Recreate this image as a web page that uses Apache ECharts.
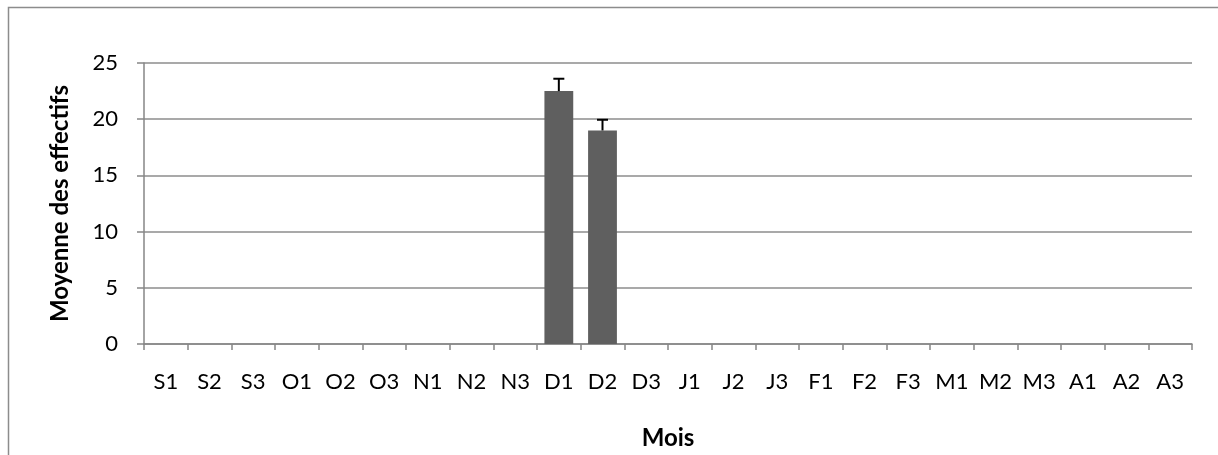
<!DOCTYPE html>
<html><head><meta charset="utf-8">
<script src="https://cdn.jsdelivr.net/npm/echarts@6/dist/echarts.min.js"></script>
<style>html,body{margin:0;padding:0;background:#fff;overflow:hidden}#c{width:1218px;height:455px}</style>
</head><body><div id="c"></div>
<script>
const categories = ['S1','S2','S3','O1','O2','O3','N1','N2','N3','D1','D2','D3','J1','J2','J3','F1','F2','F3','M1','M2','M3','A1','A2','A3'];
const means = [0,0,0,0,0,0,0,0,0,22.5,19,0,0,0,0,0,0,0,0,0,0,0,0,0];
const errors = [0,0,0,0,0,0,0,0,0,1.1,0.95,0,0,0,0,0,0,0,0,0,0,0,0,0];
const yTicks = [0,5,10,15,20,25];

const font = 'Lato, "Open Sans", sans-serif';
const chart = echarts.init(document.getElementById('c'), null, {renderer:'canvas'});
const errData = means.map((m,i)=>[i, m, m+errors[i]]).filter(d=>d[2]>d[1]);
chart.setOption({
  animation:false,
  graphic:[{type:'rect',shape:{x:8.5,y:7.5,width:1400,height:600},style:{fill:'none',stroke:'#8c8c8c',lineWidth:1.5},silent:true}],
  grid:{left:144,right:26,top:63,bottom:105,containLabel:false},
  xAxis:{type:'category',data:categories,boundaryGap:true,
    name:'Mois',nameLocation:'middle',nameGap:82,
    nameTextStyle:{fontFamily:font,fontWeight:'bold',fontSize:24,color:'#000'},
    axisLine:{lineStyle:{color:'#868686',width:1.5}},
    axisTick:{show:true,interval:0,length:6,lineStyle:{color:'#868686',width:1.5}},
    axisLabel:{interval:0,fontFamily:font,fontSize:22,color:'#000',margin:27}},
  yAxis:{type:'value',min:yTicks[0],max:yTicks[yTicks.length-1],interval:5,
    name:'Moyenne des effectifs',nameLocation:'middle',nameGap:72,nameRotate:90,
    nameTextStyle:{fontFamily:font,fontWeight:'bold',fontSize:24,color:'#000'},
    axisLine:{show:true,lineStyle:{color:'#868686',width:1.5}},
    axisTick:{show:true,length:7,lineStyle:{color:'#868686',width:1.5}},
    splitLine:{lineStyle:{color:'#8c8c8c',width:1.5}},
    axisLabel:{fontFamily:font,fontSize:22,color:'#000',margin:26}},
  series:[
    {type:'bar',data:means,barCategoryGap:'34%',itemStyle:{color:'#5f5f5f'}},
    {type:'custom',data:errData,z:5,renderItem:function(params,api){
      const x=api.value(0),lo=api.coord([x,api.value(1)]),hi=api.coord([x,api.value(2)]);
      const w=5.5;
      return {type:'group',children:[
        {type:'line',shape:{x1:lo[0],y1:lo[1],x2:hi[0],y2:hi[1]},style:{stroke:'#000',lineWidth:2}},
        {type:'line',shape:{x1:hi[0]-w,y1:hi[1],x2:hi[0]+w,y2:hi[1]},style:{stroke:'#000',lineWidth:2}}
      ]};
    }}
  ]
});
</script></body></html>
